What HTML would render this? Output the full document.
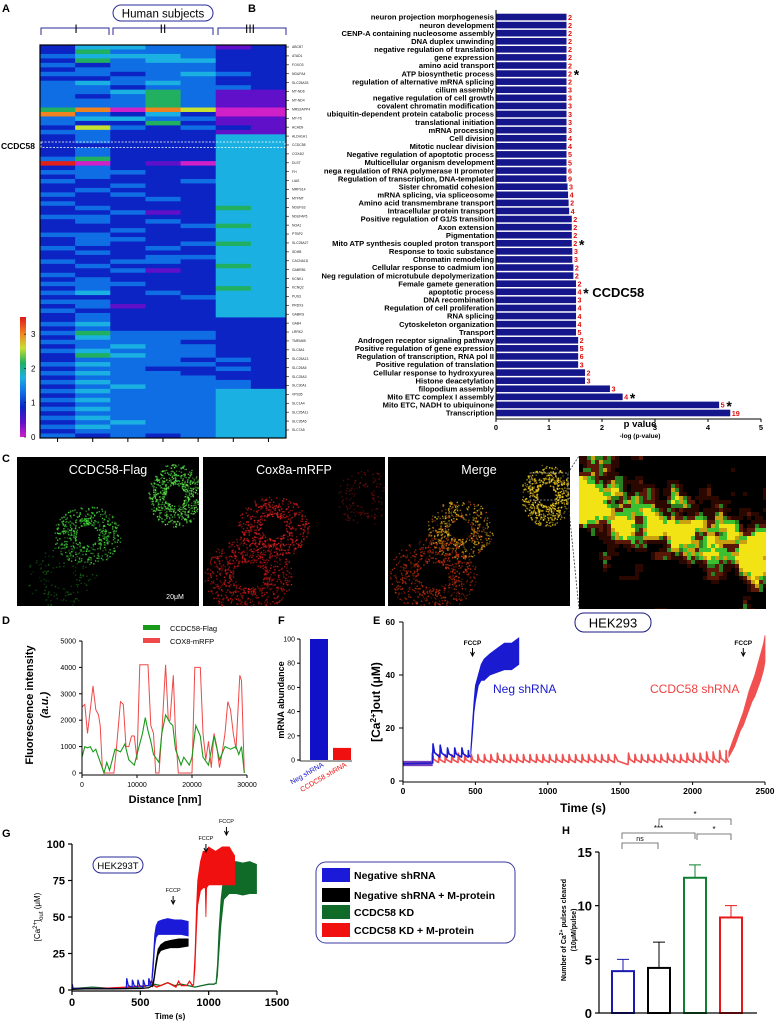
<!DOCTYPE html>
<html><head><meta charset="utf-8">
<style>
body{margin:0;background:#fff;width:775px;height:1021px;overflow:hidden}
svg{display:block;font-family:"Liberation Sans",Arial,sans-serif}
</style></head>
<body>
<svg id="fig" width="775" height="1021" viewBox="0 0 775 1021" xmlns="http://www.w3.org/2000/svg">
  <g id="pA">
    <text x="2" y="12" font-size="11" font-weight="bold">A</text>
    <rect x="113" y="5" width="100" height="16" rx="8" fill="#fff" stroke="#2a2a9a" stroke-width="1"/>
    <text x="163" y="17.5" font-size="11.5" text-anchor="middle">Human subjects</text>
    <path d="M41 35 V28 H109 V35 M113 35 V28 H213 V35 M218 35 V28 H286 V35" fill="none" stroke="#2a2a9a" stroke-width="1"/>
    <text x="76" y="33" font-size="12" text-anchor="middle">I</text>
    <text x="163" y="33" font-size="12" text-anchor="middle">II</text>
    <text x="250" y="33" font-size="12" text-anchor="middle">III</text>
    <text x="1" y="149" font-size="8.5" font-weight="bold">CCDC58</text>
  </g>
  <g id="pB">
    <text x="248" y="12" font-size="11" font-weight="bold">B</text>
  </g>
  <g id="pC">
    <text x="2" y="462" font-size="11" font-weight="bold">C</text>
  </g>
  <g id="pD">
    <text x="2" y="624" font-size="11" font-weight="bold">D</text>
  </g>
  <g id="pF">
    <text x="278" y="624" font-size="11" font-weight="bold">F</text>
  </g>
  <g id="pE">
    <text x="373" y="624" font-size="11" font-weight="bold">E</text>
  </g>
  <g id="pG">
    <text x="2" y="837" font-size="11" font-weight="bold">G</text>
  </g>
  <g id="pH">
    <text x="562" y="834" font-size="11" font-weight="bold">H</text>
  </g>
</svg>
<script>
// ===== DATA =====
const heatRows = [
"2443312","2533322","3444322","2534422","3233322","2333322","3323432","2233322",
"3434322","3323332","3345311","3235311","3335311","3335311","5707600","7324200",
"3443311","3225211","2632321","3322211","2322244","2322244","2222244","2322244",
"2322244","3522244","8021044","2322244","3332244","2322244","3222344","2232244",
"2322244","3232244","2223244","3222244","2322254","2231244","3322244","2323244",
"2222354","2232244","3322244","2332244","2322354","3223244","2322244","2223344",
"3233244","2322254","2231244","3222244","2322244","3332244","2322254","3423244",
"2222344","3322244","2312244","3222244","2322244","2322222","3422222","2322222",
"3533322","2433322","3333222","2343322","3433322","2543322","2333232","3433322",
"2332232","3433222","2333322","3433332","2343332","3433344","2333344","3433344",
"2333344","3433344","2333344","3433344","2343344","3433344","2333344","3232344"];
const geneNames = ["ABCB7","ATAD1","FOXO3","NDUFA4","SLC25A33","MT-ND6","MT-ND4","MRS2APP4","MT-T6","ACAD9","ALDH1A1","CCDC58","COX4I2","DLST","FH","LIAS","MRPS14","MTFMT","NDUFS3","NDUFAF5","NOA1","PTBP2","SLC25A27","SDHB","CACNA1D","GABRB1","KCNK1","KCNQ2","PUS3","PRDX3","GABRG","GAB4","LRRK2","TMEM65","SLC8A1","SLC25A13","SLC25A5","SLC25A3","SLC30A1","VPS35","SLC1A4","SLC25A11","SLC35A5","SLC7A5"];
const cbTicks = [0,1,2,3];

const goTerms = ["neuron projection morphogenesis","neuron development","CENP-A containing nucleosome assembly","DNA duplex unwinding","negative regulation of translation","gene expression","amino acid transport","ATP biosynthetic process","regulation of alternative mRNA splicing","cilium assembly","negative regulation of cell growth","covalent chromatin modification","ubiquitin-dependent protein catabolic process","translational initiation","mRNA processing","Cell division","Mitotic nuclear division","Negative regulation of apoptotic process","Multicellular organism development","nega regulation of RNA polymerase II promoter","Regulation of transcription, DNA-templated","Sister chromatid cohesion","mRNA splicing, via spliceosome","Amino acid transmembrane transport","Intracellular protein transport","Positive regulation of G1/S transition","Axon extension","Pigmentation","Mito ATP synthesis coupled proton transport","Response to toxic substance","Chromatin remodeling","Cellular response to cadmium ion","Neg regulation of microtubule depolymerization","Female gamete generation","apoptotic process","DNA recombination","Regulation of cell proliferation","RNA splicing","Cytoskeleton organization","Transport","Androgen receptor signaling pathway","Positive regulation of gene expression","Regulation of transcription, RNA pol II","Positive regulation of translation","Cellular response to hydroxyurea","Histone deacetylation","filopodium assembly","Mito ETC complex I assembly","Mito ETC, NADH to ubiquinone","Transcription"];
const goLogP = [1.33,1.33,1.33,1.33,1.33,1.33,1.33,1.33,1.33,1.33,1.33,1.33,1.33,1.33,1.33,1.33,1.33,1.33,1.33,1.33,1.33,1.35,1.36,1.37,1.38,1.43,1.43,1.43,1.43,1.44,1.44,1.46,1.46,1.51,1.51,1.51,1.51,1.51,1.51,1.51,1.55,1.55,1.55,1.55,1.68,1.68,2.15,2.39,4.21,4.42];
const goCounts = [2,2,2,2,2,2,2,2,2,3,3,3,3,3,3,4,4,5,5,6,9,3,4,2,4,2,2,2,2,3,3,2,2,2,4,3,4,4,4,5,2,5,6,3,2,3,3,4,5,19];
const goStars = [7,28,34,47,48];
const goTicks = [0,1,2,3,4,5];

const dRedX = [0,500,1000,1500,2000,2500,3000,3300,3700,4000,5000,5800,6200,7000,7500,8000,8500,9000,9500,10000,10500,11000,12000,12500,13000,13400,14000,14500,15200,15700,16000,16600,17000,17500,18500,20000,20500,21000,21500,22000,22500,23000,23500,24000,24500,25000,25500,26000,26500,27000,27500,28000,28700,29000,29500];
const dRedY = [2500,2600,1500,2400,3300,2400,2200,1800,200,0,0,0,800,2700,2600,1000,1000,1400,1400,500,4100,4100,4100,1800,1500,0,0,1500,4100,2000,2000,3700,1500,0,0,0,4000,4000,4000,1500,500,1200,200,1500,1000,200,800,1500,2700,2400,1500,900,3700,3500,0];
const dGrnX = [0,500,1000,1500,2000,2500,3000,3500,4000,4500,5000,5500,6000,7000,7800,8500,9500,10000,11000,11500,12000,12500,13000,14000,14500,15200,16000,16500,17000,18000,18500,19500,20000,20700,21500,22000,23000,24000,25000,26000,27000,28000,28500,29000,29500];
const dGrnY = [600,1000,950,1000,800,900,600,300,0,400,100,500,900,800,1100,500,300,700,1500,2100,1600,1200,700,400,1500,2200,1900,1800,900,300,600,300,600,1800,1400,600,300,1400,500,1000,900,1000,700,1000,0];
const dYTicks = [0,1000,2000,3000,4000,5000];
const dXTicks = [0,10000,20000,30000];

const fCats = ["Neg shRNA","CCDC58 shRNA"];
const fVals = [100,10];
const fTicks = [0,20,40,60,80,100];

const eNegPulseT = [205,255,305,355,405,450];
const eNegPulsePeak = [14,13.5,12.5,12.5,12.5,11.5];
const eNegRiseT = [468,480,490,500,520,540,560,600,650,700,750,800];
const eNegRiseLo = [10,18,26,30,36,38,38,40,41,42,42,44];
const eNegRiseHi = [12,22,30,36,40,44,46,48,50,52,52,54];
const eRedPulseT = [200,245,290,335,380,425,470,515,560,605,650,695,740,785,830,875,920,965,1010,1055,1100,1145,1190,1235,1280,1325,1370,1415,1460,1555,1600,1645,1690,1735,1780,1825,1870,1915,1960,2005,2050,2095,2140,2185,2230];
const eRedPulsePeak = [10.5,10,10,10,10.5,10,10,10,10,10,10.5,10,10,10,10,10,10,10,10,10,10,10,10,10,10,10,10,10,10,10.5,10,10,10,10,10,10.5,10,10,10.5,10.5,10.5,11,11,11.5,11.5];
const eRedRiseT = [2250,2270,2290,2310,2330,2350,2370,2390,2410,2430,2450,2470,2490,2500];
const eRedRiseLo = [9,11,13,16,19,21,24,27,30,32,35,38,42,45];
const eRedRiseHi = [11,14,17,20,23,26,30,34,37,40,44,48,52,55];
const eYTicks = [0,20,40,60];
const eXTicks = [0,500,1000,1500,2000,2500];

const gSeries = ["Negative shRNA","Negative shRNA + M-protein","CCDC58 KD","CCDC58 KD + M-protein"];
const gNegLineT = [0,2,8,60,200,398,400,412,440,442,455,480,482,495,520,522,535,560,562,575,585];
const gNegLineV = [1,4,1,1,1,1,8,3,2,7,3,2,7,3,2,7,3,3,8,4,6];
const gNegBandT = [585,595,605,615,630,660,700,750,800,850];
const gNegLo = [5,15,30,36,38,38,38,38,38,37];
const gNegHi = [9,22,38,44,47,48,49,48,48,47];
const gMLineT = [0,100,300,500,560,590];
const gMLineV = [0.5,0.8,0.8,1,1.5,3];
const gMBandT = [590,600,615,630,650,680,720,780,850];
const gMLo = [2,6,16,24,27,28,29,29,30];
const gMHi = [4,9,20,28,31,33,34,35,35];
const gKdLineT = [0,200,400,560,580,600,620,700,760,780,800,840,860,880,890];
const gKdLineV = [1,1,2,3,6,3,2,5,2,6,3,3,6,3,4];
const gKdBandT = [890,900,910,920,940,960,975,980,985,1000,1050,1100,1150,1190];
const gKdLo = [3,15,40,58,68,70,70,50,70,72,72,72,72,72];
const gKdHi = [6,25,55,75,88,95,95,95,95,98,95,98,98,92];
const gKdMLineT = [0,150,300,500,560,600,650,700,750,800,850,900,950,1000,1040,1055];
const gKdMLineV = [1,2,1,2,3,4,3,5,3,4,3,2,3,4,4,5];
const gKdMBandT = [1055,1065,1075,1090,1110,1130,1150,1200,1250,1300,1350];
const gKdMLo = [4,10,25,45,62,64,66,66,65,66,66];
const gKdMHi = [7,18,40,62,78,85,88,88,87,88,86];
const gYTicks = [0,25,50,75,100];
const gXTicks = [0,500,1000,1500];

const hMeans = [3.9,4.2,12.6,8.9];
const hErr = [5.0,6.6,13.8,10.0];
const hTicks = [0,5,10,15];

// ===== HELPERS =====
const NS='http://www.w3.org/2000/svg';
function mk(tag,parent,attrs){const e=document.createElementNS(NS,tag);for(const k in attrs)e.setAttribute(k,attrs[k]);parent.appendChild(e);return e;}
function txt(parent,x,y,s,attrs){const t=mk('text',parent,Object.assign({x:x,y:y},attrs||{}));t.textContent=s;return t;}
function lin(a0,a1,p0,p1){return v=>p0+(v-a0)/(a1-a0)*(p1-p0);}

// ===== PANEL A =====
(function(){
const g=document.getElementById('pA');
const stops=[[0,[208,32,200]],[0.42,[96,16,200]],[0.84,[12,36,196]],[1.26,[16,110,228]],[1.68,[26,176,226]],[2.1,[32,176,96]],[2.52,[200,224,48]],[2.94,[240,130,32]],[3.4,[224,24,24]]];
function cmap(v){for(let i=1;i<stops.length;i++){if(v<=stops[i][0]){const a=stops[i-1],b=stops[i];const t=(v-a[0])/(b[0]-a[0]);const c=a[1].map((x,k)=>Math.round(x+(b[1][k]-x)*t));return 'rgb('+c.join(',')+')';}}return 'rgb(224,24,24)';}
const x0=40,x1=286,y0=45,y1=438;
const cw=(x1-x0)/7, rh=(y1-y0)/heatRows.length;
heatRows.forEach((row,i)=>{
  for(let j=0;j<7;j++){
    const v=parseInt(row[j])*0.42;
    const r=mk('rect',g,{x:x0+j*cw,y:y0+i*rh,width:cw+0.4,height:rh+0.4,fill:cmap(v)});
    
    
  }
});
const bd=mk('rect',g,{x:x0,y:y0,width:x1-x0,height:y1-y0,fill:'none',stroke:'#000','stroke-width':1.2});


const hl=mk('rect',g,{x:x0+1,y:142,width:x1-x0-2,height:5.5,fill:'none',stroke:'#fff','stroke-width':0.8,'stroke-dasharray':'2,1.5'});


for(let j=0;j<7;j++){
  const t=mk('line',g,{x1:x0+(j+0.5)*cw,x2:x0+(j+0.5)*cw,y1:y1,y2:y1+4,stroke:'#000','stroke-width':1});
  
  
}
geneNames.forEach((n,i)=>{
  const y=47+i*(383/(geneNames.length-1));
  const tk=mk('line',g,{x1:x1,x2:x1+3,y1:y,y2:y,stroke:'#000','stroke-width':0.6});
  
  
  const t=txt(g,x1+6,y+1.2,n,{'font-size':3.4,fill:'#222'});
  
  
});
const defs=mk('defs',g,{});
const lg=mk('linearGradient',defs,{id:'cbg',x1:0,y1:1,x2:0,y2:0});
stops.forEach(s=>{mk('stop',lg,{offset:(s[0]/3.4),'stop-color':'rgb('+s[1].join(',')+')'});});
const cb=mk('rect',g,{x:20,y:317,width:6,height:120,fill:'url(#cbg)'});


const cy=lin(0,3.5,437,317);
cbTicks.forEach(v=>{
  const t=txt(g,31,cy(v)+3,String(v),{'font-size':8});
  
  
  const l=mk('line',g,{x1:24,x2:26,y1:cy(v),y2:cy(v),stroke:'#000','stroke-width':0.6});
  
  
});
})();

// ===== PANEL B =====
(function(){
const g=document.getElementById('pB');
const xs=lin(0,5,496,761);
const rowY=i=>17+i*((413-17)/(goTerms.length-1));
goTerms.forEach((t,i)=>{
  const y=rowY(i);
  const b=mk('rect',g,{x:xs(0),y:y-3.3,width:xs(goLogP[i])-xs(0),height:6.6,fill:'#16168c'});
  
  
  const l=txt(g,494,y+2.7,t,{'font-size':7.6,'font-weight':'bold','text-anchor':'end'});
  
  
  const c=txt(g,xs(goLogP[i])+1.5,y+2.8,String(goCounts[i]),{'font-size':7.2,'font-weight':'bold',fill:'#e01010'});
  
  
  if(goStars.indexOf(i)>=0){
    const off=String(goCounts[i]).length*4.2+3;
    const s=txt(g,xs(goLogP[i])+off,y+6,'*',{'font-size':14,'font-weight':'bold'});
    
    
    if(i===34){
      const cc=txt(g,xs(goLogP[i])+off+9,y+5,'CCDC58',{'font-size':13,'font-weight':'bold'});
      
      
    }
  }
});
const ax=mk('path',g,{d:'M496 10 V419 H761',fill:'none',stroke:'#000','stroke-width':1});


goTicks.forEach(v=>{
  const tk=mk('line',g,{x1:xs(v),x2:xs(v),y1:419,y2:422,stroke:'#000','stroke-width':1});
  
  
  const t=txt(g,xs(v),430,String(v),{'font-size':7.5,'font-weight':'bold','text-anchor':'middle'});
  
  
});
const pv=txt(g,640,427,'p value',{'font-size':9.5,'font-weight':'bold','text-anchor':'middle'});


const xt=txt(g,640,438,'-log (p-value)',{'font-size':6.5,'font-weight':'bold','text-anchor':'middle'});


})();

// ===== PANEL C (micrographs, decorative) =====
(function(){
const g=document.getElementById('pC');
let seed=12345;
function rnd(){seed|=0;seed=seed+0x6D2B79F5|0;let t=Math.imul(seed^seed>>>15,1|seed);t=t+Math.imul(t^t>>>7,61|t)^t;return((t^t>>>14)>>>0)/4294967296;}
const panels=[{x:17,name:'ccdc58-flag-image',title:'CCDC58-Flag'},{x:203,name:'cox8a-image',title:'Cox8a-mRFP'},{x:388,name:'merge-image',title:'Merge'}];
const Y=457,W=182,H=149;
panels.forEach(p=>{
  const r=mk('rect',g,{x:p.x,y:Y,width:W,height:H,fill:'#000'});
  
  
});
function ring(ox,cx,cy,rx,ry,n,cols,op){
  for(let k=0;k<n;k++){
    const a=rnd()*6.283, rr=0.35+rnd()*0.7;
    const x=ox+cx+Math.cos(a)*rx*rr, y=Y+cy+Math.sin(a)*ry*rr;
    if(x<ox+1||x>ox+W-1||y<Y+1||y>Y+H-1) continue;
    const s=mk('rect',g,{x:x,y:y,width:1.4,height:1.4,fill:cols[Math.floor(rnd()*cols.length)],opacity:op*(0.4+rnd()*0.6)});
    
    
  }
}
ring(17,70,78,32,28,480,['#30c030','#50e040'],1);
ring(17,158,38,26,30,560,['#40d040','#70f050'],1);
ring(17,45,120,35,30,140,['#1a701a'],0.8);
ring(203,70,70,34,30,520,['#e02020','#c01818'],1);
ring(203,45,118,42,36,720,['#d01a1a','#a01010'],1);
ring(203,160,40,25,28,160,['#801010'],0.8);
ring(388,72,72,32,28,480,['#e8c020','#d0a010','#c04010'],1);
ring(388,158,38,24,30,560,['#f0d020','#e8c018'],1);
ring(388,45,118,42,36,640,['#c83010','#a02808'],1);
panels.forEach(p=>{
  const t=txt(g,p.x+W/2,Y+17,p.title,{'font-size':12.5,fill:'#fff','text-anchor':'middle'});
  
  
});
const sb=txt(g,175,599,'20\u03bcM',{'font-size':7,fill:'#fff','text-anchor':'middle'});


const box=mk('rect',g,{x:530,y:473,width:38,height:27,fill:'none',stroke:'#aaa','stroke-width':0.8,'stroke-dasharray':'2,1.5'});


const ZX=579,ZY=456,ZW=187,ZH=153;
const zr=mk('rect',g,{x:ZX,y:ZY,width:ZW,height:ZH,fill:'#000'});


const GX=16,GY=14,grid=[];for(let i=0;i<=GY;i++){grid.push([]);for(let j=0;j<=GX;j++)grid[i].push(rnd());}
function noise(u,v){const x=u*GX,y=v*GY,i=Math.min(GY-1,Math.floor(y)),j=Math.min(GX-1,Math.floor(x)),fx=x-j,fy=y-i;return grid[i][j]*(1-fx)*(1-fy)+grid[i][j+1]*fx*(1-fy)+grid[i+1][j]*(1-fx)*fy+grid[i+1][j+1]*fx*fy;}
const cs=4;
for(let yy=0;yy<ZH;yy+=cs){for(let xx=0;xx<ZW;xx+=cs){
  const u=xx/ZW,v=yy/ZH;
  const c=0.25+0.4*u; const d=(v-c)/0.26;
  const m=Math.exp(-d*d);
  const val=noise(u,v)*0.6+m*0.55+rnd()*0.1;
  let col=null;
  if(val>0.88) col='#f2e414'; else if(val>0.78) col=rnd()<0.5?'#3cc030':'#c8a010'; else if(val>0.66) col=rnd()<0.6?'#5a1808':'#2a8020'; else if(val>0.56) col='#2a0800';
  if(col){const s=mk('rect',g,{x:ZX+xx,y:ZY+yy,width:Math.min(cs,ZW-xx),height:Math.min(cs,ZH-yy),fill:col});
    
    }
}}
const dl=mk('path',g,{d:'M568 473 L579 456 M568 500 L579 609',stroke:'#333','stroke-width':0.8,'stroke-dasharray':'2,1.5',fill:'none'});


})();

// ===== PANEL D =====
(function(){
const g=document.getElementById('pD');
const xs=lin(0,30000,82,247), ys=lin(0,5000,773,641);
function path(X,Yv){return X.map((x,i)=>(i?'L':'M')+xs(x).toFixed(1)+' '+ys(Yv[i]).toFixed(1)).join(' ');}
const r=mk('path',g,{d:path(dRedX,dRedY),fill:'none',stroke:'#f04848','stroke-width':1});


const gr=mk('path',g,{d:path(dGrnX,dGrnY),fill:'none',stroke:'#1a9a1a','stroke-width':1.1});


const ax=mk('path',g,{d:'M82 641 V775 M82 775 H247',fill:'none',stroke:'#000','stroke-width':1});


dYTicks.forEach(v=>{
  const tk=mk('line',g,{x1:79,x2:82,y1:ys(v),y2:ys(v),stroke:'#000','stroke-width':1});
  
  
  const t=txt(g,76,ys(v)+2.5,String(v),{'font-size':7,'text-anchor':'end'});
  
  
});
dXTicks.forEach(v=>{
  const tk=mk('line',g,{x1:xs(v),x2:xs(v),y1:775,y2:778,stroke:'#000','stroke-width':1});
  
  
  const t=txt(g,xs(v),787,String(v),{'font-size':7,'text-anchor':'middle'});
  
  
});
const xt=txt(g,165,803,'Distance [nm]',{'font-size':11,'font-weight':'bold','text-anchor':'middle'});


const yt=txt(g,0,0,'Fluorescence intensity',{'font-size':11,'font-weight':'bold','text-anchor':'middle',transform:'translate(33,705) rotate(-90)'});


const yt2=txt(g,0,0,'(a.u.)',{'font-size':11,'font-weight':'bold','font-style':'italic','text-anchor':'middle',transform:'translate(48,705) rotate(-90)'});


const l1=mk('rect',g,{x:143,y:625,width:17,height:5,fill:'#1a9a1a'});


const lt1=txt(g,170,631,'CCDC58-Flag',{'font-size':7.5});


const l2=mk('rect',g,{x:143,y:638,width:17,height:5,fill:'#f04848'});


const lt2=txt(g,170,644,'COX8-mRFP',{'font-size':7.5});


})();

// ===== PANEL F =====
(function(){
const g=document.getElementById('pF');
const ys=lin(0,100,760,639);
const cols=['#1010c8','#f01010'], xsL=[310,333];
fVals.forEach((v,i)=>{
  const b=mk('rect',g,{x:xsL[i],y:ys(v),width:18,height:ys(0)-ys(v),fill:cols[i]});
  
  
  const t=txt(g,0,0,fCats[i],{'font-size':7,fill:cols[i],'text-anchor':'end',transform:'translate('+(xsL[i]+14)+',766) rotate(-30)'});
  
  
});
const ax=mk('line',g,{x1:300,x2:300,y1:639,y2:761,stroke:'#000','stroke-width':1});


const bx=mk('line',g,{x1:300,x2:352,y1:761,y2:761,stroke:'#000','stroke-width':0.8});


fTicks.forEach(v=>{
  const tk=mk('line',g,{x1:297,x2:300,y1:ys(v),y2:ys(v),stroke:'#000','stroke-width':1});
  
  
  const t=txt(g,295,ys(v)+2.5,String(v),{'font-size':7,'text-anchor':'end'});
  
  
});
const yt=txt(g,0,0,'mRNA  abundance',{'font-size':9,'font-weight':'bold','text-anchor':'middle',transform:'translate(284,700) rotate(-90)'});


})();

// ===== PANEL E =====
(function(){
const g=document.getElementById('pE');
const xs=lin(0,2500,403,765), ys=lin(0,60,781,622);
function band(T,lo,hi,col,name){
  const d=T.map((t,i)=>(i?'L':'M')+xs(t).toFixed(1)+' '+ys(hi[i]).toFixed(1)).join(' ')+' '+T.slice().reverse().map((t,k)=>'L'+xs(t).toFixed(1)+' '+ys(lo[T.length-1-k]).toFixed(1)).join(' ')+'Z';
  const p=mk('path',g,{d:d,fill:col,stroke:col,'stroke-width':0.8});
  
  
}
function saw(T,P,trough,endT,col,name){
  let d='M'+xs(0)+' '+ys(6.5);
  for(let i=0;i<T.length;i++){
    const t=T[i], nt=(i+1<T.length)?T[i+1]:endT, gap=nt-t;
    const tr=gap>60?6.2:trough;
    d+=' L'+xs(t).toFixed(1)+' '+ys(i?trough:6.8).toFixed(1)+' L'+xs(t+2).toFixed(1)+' '+ys(P[i]).toFixed(1)+' L'+xs(t+gap*0.25).toFixed(1)+' '+ys(tr+(P[i]-tr)*0.35).toFixed(1)+' L'+xs(nt-1).toFixed(1)+' '+ys(tr).toFixed(1);
  }
  const p=mk('path',g,{d:d,fill:'none',stroke:col,'stroke-width':1.6,'stroke-linejoin':'round'});
  
  
}
const bl=mk('rect',g,{x:xs(0),y:ys(7.6),width:xs(205)-xs(0),height:ys(5.6)-ys(7.6),fill:'#7040c0'});


saw(eRedPulseT,eRedPulsePeak,7,2250,'#f05050','ccdc58-shrna-trace');
band(eRedRiseT,eRedRiseLo,eRedRiseHi,'#f05050','ccdc58-shrna-fccp-trace');
saw(eNegPulseT,eNegPulsePeak,9,468,'#1a1ad0','neg-shrna-trace');
band(eNegRiseT,eNegRiseLo,eNegRiseHi,'#1a1ad0','neg-shrna-fccp-trace');
const ax=mk('path',g,{d:'M403 622 V782 H765',fill:'none',stroke:'#000','stroke-width':1});


eYTicks.forEach(v=>{
  const tk=mk('line',g,{x1:399,x2:403,y1:ys(v),y2:ys(v),stroke:'#000','stroke-width':1});
  
  
  const t=txt(g,395,ys(v)+3,String(v),{'font-size':8.5,'font-weight':'bold','text-anchor':'end'});
  
  
});
eXTicks.forEach(v=>{
  const tk=mk('line',g,{x1:xs(v),x2:xs(v),y1:782,y2:785,stroke:'#000','stroke-width':1});
  
  
  const t=txt(g,xs(v),794,String(v),{'font-size':8.5,'font-weight':'bold','text-anchor':'middle'});
  
  
});
const xt=txt(g,583,812,'Time (s)',{'font-size':12,'font-weight':'bold','text-anchor':'middle'});


const yt=mk('text',g,{'font-size':12,'font-weight':'bold','text-anchor':'middle',transform:'translate(380,702) rotate(-90)'});
yt.innerHTML='[Ca<tspan baseline-shift="super" font-size="8">2+</tspan>]out (\u03bcM)';


const hb=mk('rect',g,{x:575,y:613,width:76,height:19,rx:9,fill:'#fff',stroke:'#1a1a80','stroke-width':1});


const ht=txt(g,613,627.5,'HEK293',{'font-size':13,'text-anchor':'middle'});


[[480,'fccp-neg'],[2350,'fccp-ccdc58']].forEach(f=>{
  const t=txt(g,xs(f[0]),645,'FCCP',{'font-size':6.5,'font-weight':'bold','text-anchor':'middle'});
  
  
  const a=mk('path',g,{d:'M'+xs(f[0])+' 648 V655 M'+(xs(f[0])-2)+' 652 L'+xs(f[0])+' 656 L'+(xs(f[0])+2)+' 652',fill:'none',stroke:'#000','stroke-width':1});
  
  
});
const nl=txt(g,493,693,'Neg shRNA',{'font-size':12,fill:'#1a1ad0'});


const cl=txt(g,650,693,'CCDC58 shRNA',{'font-size':12,fill:'#f04040'});


})();

// ===== PANEL G =====
(function(){
const g=document.getElementById('pG');
const xs=lin(0,1500,72,277), ys=lin(0,100,990,844);
function line(T,V,col,name){
  const p=mk('path',g,{d:T.map((t,i)=>(i?'L':'M')+xs(t).toFixed(1)+' '+ys(V[i]).toFixed(1)).join(' '),fill:'none',stroke:col,'stroke-width':1.3});
  
  
}
function band(T,lo,hi,col,name){
  const d=T.map((t,i)=>(i?'L':'M')+xs(t).toFixed(1)+' '+ys(hi[i]).toFixed(1)).join(' ')+' '+T.slice().reverse().map((t,k)=>'L'+xs(t).toFixed(1)+' '+ys(lo[T.length-1-k]).toFixed(1)).join(' ')+'Z';
  const p=mk('path',g,{d:d,fill:col,stroke:col,'stroke-width':0.8});
  
  
}
const cols=['#1a1ad8','#000','#106a28','#f01010'];
line(gKdMLineT,gKdMLineV,cols[2],'ccdc58-kd-mprotein-baseline');
band(gKdMBandT,gKdMLo,gKdMHi,cols[2],'ccdc58-kd-mprotein-fccp');
line(gKdLineT,gKdLineV,cols[3],'ccdc58-kd-baseline');
band(gKdBandT,gKdLo,gKdHi,cols[3],'ccdc58-kd-fccp');
line(gNegLineT,gNegLineV,cols[0],'negative-shrna-baseline');
band(gNegBandT,gNegLo,gNegHi,cols[0],'negative-shrna-fccp');
line(gMLineT,gMLineV,cols[1],'negative-mprotein-baseline');
band(gMBandT,gMLo,gMHi,cols[1],'negative-mprotein-fccp');
const ax=mk('path',g,{d:'M72 844 V991 H277',fill:'none',stroke:'#000','stroke-width':1.2});


gYTicks.forEach(v=>{
  const tk=mk('line',g,{x1:68,x2:72,y1:ys(v),y2:ys(v),stroke:'#000','stroke-width':1.2});
  
  
  const t=txt(g,65,ys(v)+4,String(v),{'font-size':11,'font-weight':'bold','text-anchor':'end'});
  
  
});
gXTicks.forEach(v=>{
  const tk=mk('line',g,{x1:xs(v),x2:xs(v),y1:991,y2:995,stroke:'#000','stroke-width':1.2});
  
  
  const t=txt(g,xs(v),1006,String(v),{'font-size':11,'font-weight':'bold','text-anchor':'middle'});
  
  
});
const xt=txt(g,170,1019,'Time (s)',{'font-size':8,'font-weight':'bold','text-anchor':'middle'});


const yt=mk('text',g,{'font-size':8,'text-anchor':'middle',transform:'translate(40,917) rotate(-90)'});
yt.innerHTML='[Ca<tspan baseline-shift="super" font-size="6">2+</tspan>]<tspan baseline-shift="sub" font-size="6">out</tspan> (\u03bcM)';


const hb=mk('rect',g,{x:93,y:857,width:50,height:16,rx:8,fill:'#fff',stroke:'#2a2a9a','stroke-width':1});


const ht=txt(g,118,869,'HEK293T',{'font-size':9.5,'text-anchor':'middle'});


[[740,892,'fccp-negative'],[980,840,'fccp-ccdc58-kd'],[1130,823,'fccp-ccdc58-kd-mprotein']].forEach(f=>{
  const x=xs(f[0]);
  const t=txt(g,x,f[1],'FCCP',{'font-size':5.5,'text-anchor':'middle'});
  
  
  const a=mk('path',g,{d:'M'+x+' '+(f[1]+4)+' V'+(f[1]+11)+' M'+(x-2)+' '+(f[1]+8)+' L'+x+' '+(f[1]+12)+' L'+(x+2)+' '+(f[1]+8),fill:'none',stroke:'#000','stroke-width':1});
  
  
});
const lb=mk('rect',g,{x:316,y:862,width:199,height:81,rx:10,fill:'#fff',stroke:'#3a3aa0','stroke-width':1});


const ly=[875,895,912,930];
gSeries.forEach((s,i)=>{
  const r=mk('rect',g,{x:322,y:ly[i]-7,width:28,height:14,fill:cols[i]});
  
  
  const t=txt(g,354,ly[i]+4,s,{'font-size':10.5,'font-weight':'bold'});
  
  
});
})();

// ===== PANEL H =====
(function(){
const g=document.getElementById('pH');
const ys=lin(0,15,1013,852);
const bx=[612,648,684,720], cols=['#1a1ab0','#000','#108030','#e81818'];
hMeans.forEach((v,i)=>{
  const e=mk('path',g,{d:'M'+(bx[i]+11)+' '+ys(v)+' V'+ys(hErr[i])+' M'+(bx[i]+5)+' '+ys(hErr[i])+' H'+(bx[i]+17),stroke:cols[i],'stroke-width':1,fill:'none'});
  
  
  const b=mk('rect',g,{x:bx[i],y:ys(v),width:22,height:ys(0)-ys(v),fill:'#fff',stroke:cols[i],'stroke-width':2});
  
  
});
const ax=mk('path',g,{d:'M599 852 V1013 H757',fill:'none',stroke:'#000','stroke-width':1.2});


hTicks.forEach(v=>{
  const tk=mk('line',g,{x1:595,x2:599,y1:ys(v),y2:ys(v),stroke:'#000','stroke-width':1.2});
  
  
  const t=txt(g,592,ys(v)+5,String(v),{'font-size':13,'font-weight':'bold','text-anchor':'end'});
  
  
});
const yt=mk('text',g,{'font-size':7,'font-weight':'bold','text-anchor':'middle',transform:'translate(566,930) rotate(-90)'});
yt.innerHTML='Number of Ca<tspan baseline-shift="super" font-size="5">2+</tspan> pulses cleared';


const yt2=txt(g,0,0,'(10\u03bcM/pulse)',{'font-size':7,'font-weight':'bold','text-anchor':'middle',transform:'translate(576,930) rotate(-90)'});


[[622,658,843,'ns','sig-ns'],[622,695,833,'***','sig-three-star'],[697,731,834,'*','sig-star-kd'],[659,731,819,'*','sig-star-top']].forEach(s=>{
  const p=mk('path',g,{d:'M'+s[0]+' '+(s[2]+6)+' V'+s[2]+' H'+s[1]+' V'+(s[2]+6),fill:'none',stroke:'#555','stroke-width':0.8});
  
  
  const t=txt(g,(s[0]+s[1])/2,s[2]-2,s[3],{'font-size':s[3]==='ns'?7:8,'text-anchor':'middle'});
  
  
});
})();
</script>
</body></html>
